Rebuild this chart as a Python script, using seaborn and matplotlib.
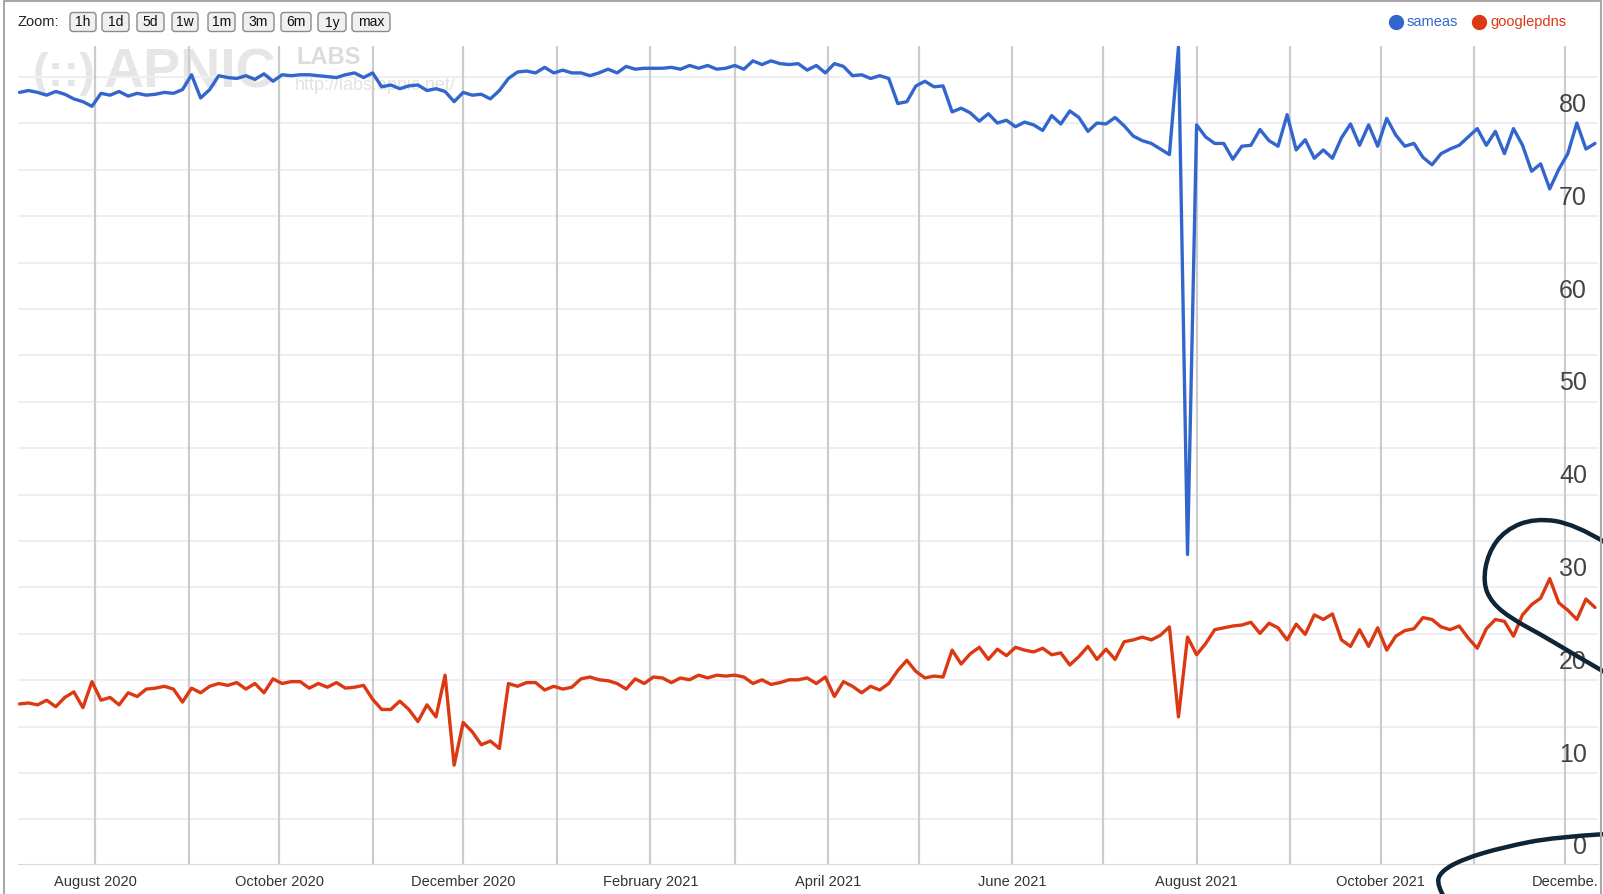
import numpy as np
import pandas as pd
import matplotlib
matplotlib.use('Agg')
import matplotlib.pyplot as plt
import matplotlib.dates as mdates
from matplotlib.patches import FancyBboxPatch, PathPatch
from matplotlib.path import Path
from matplotlib.ticker import FuncFormatter
import seaborn as sns

# -------------------------
# Data (one value every 3 days from 2020-07-07)
# -------------------------
start_date = '2020-07-07'
step_days = 3

sameas = [
    81.1, 81.3, 81.1, 80.8, 81.2, 80.9, 80.4, 80.1, 79.6, 81.0, 80.8, 81.2, 80.7, 81.0,
    80.8, 80.9, 81.1, 81.0, 81.4, 83.0, 80.5, 81.4, 82.9, 82.7, 82.6, 82.9, 82.5, 83.1,
    82.3, 83.0, 82.9, 83.0, 83.0, 82.9, 82.8, 82.7, 83.0, 83.2, 82.7, 83.2, 81.7, 81.9,
    81.5, 81.8, 81.9, 81.3, 81.5, 81.2, 80.1, 81.1, 80.8, 80.9, 80.4, 81.3, 82.6, 83.3, 83.4,
    83.2, 83.8, 83.2, 83.5, 83.2, 83.2, 82.9, 83.2, 83.6, 83.2, 83.9, 83.6, 83.7, 83.7,
    83.7, 83.8, 83.6, 84.0, 83.7, 84.0, 83.6, 83.7, 84.0, 83.6, 84.5, 84.1, 84.5, 84.2, 84.1,
    84.2, 83.5, 84.0, 83.2, 84.2, 83.9, 82.9, 83.0, 82.6, 82.9, 82.6, 79.9, 80.1, 81.8,
    82.3, 81.7, 81.8, 79.0, 79.4, 78.9, 78.0, 78.8, 77.8, 78.1, 77.4, 77.9, 77.6, 77.0,
    78.6, 77.7, 79.1, 78.4, 76.9, 77.8, 77.7, 78.4, 77.5, 76.4, 75.9, 75.6, 75.0, 74.4,
    86.0, 31.3, 77.6, 76.3, 75.6, 75.6, 73.9, 75.3, 75.4, 77.1, 75.9, 75.3, 78.7, 74.9, 76.0,
    74.0, 74.9, 74.0, 76.2, 77.7, 75.4, 77.6, 75.3, 78.3, 76.5, 75.3, 75.6, 74.1, 73.3,
    74.5, 75.0, 75.4, 76.3, 77.2, 75.4, 76.9, 74.5, 77.2, 75.4, 72.6, 73.4, 70.7, 72.8, 74.5,
    77.8, 75.0, 75.6,
]

googlepdns = [
    15.2, 15.3, 15.1, 15.6, 14.9, 15.9, 16.5, 14.8, 17.6, 15.6, 15.9, 15.1, 16.4, 16.0,
    16.8, 16.9, 17.1, 16.8, 15.4, 16.9, 16.4, 17.1, 17.4, 17.2, 17.5, 16.8, 17.4, 16.4,
    17.9, 17.4, 17.6, 17.6, 16.9, 17.4, 17.0, 17.5, 16.9, 17.0, 17.2, 15.7, 14.6, 14.6,
    15.5, 14.6, 13.3, 15.1, 13.8, 18.3, 8.6, 13.2, 12.2, 10.8, 11.2, 10.4, 17.4, 17.1, 17.5,
    17.5, 16.7, 17.1, 16.8, 17.0, 17.9, 18.1, 17.8, 17.7, 17.4, 16.8, 17.9, 17.4, 18.1,
    18.0, 17.5, 18.0, 17.8, 18.3, 18.0, 18.3, 18.2, 18.3, 18.1, 17.4, 17.8, 17.3, 17.5, 17.8,
    17.8, 18.0, 17.4, 18.1, 16.0, 17.6, 17.1, 16.4, 17.1, 16.7, 17.4, 18.8, 19.9, 18.7,
    18.0, 18.2, 18.1, 21.0, 19.5, 20.6, 21.3, 20.0, 21.1, 20.4, 21.3, 21.0, 20.8, 21.2,
    20.5, 20.7, 19.4, 20.3, 21.4, 20.0, 21.1, 20.0, 21.9, 22.1, 22.4, 22.1, 22.6, 23.5,
    13.8, 22.4, 20.5, 21.7, 23.2, 23.4, 23.6, 23.7, 24.0, 22.8, 23.9, 23.4, 22.1, 23.8, 22.7,
    24.8, 24.3, 24.9, 22.1, 21.4, 23.2, 21.4, 23.4, 21.0, 22.5, 23.1, 23.3, 24.5, 24.3,
    23.5, 23.2, 23.6, 22.3, 21.2, 23.3, 24.3, 24.1, 22.5, 24.8, 25.9, 26.6, 28.7, 26.1, 25.3,
    24.3, 26.5, 25.6,
]

y_labels = list(range(0, 90, 10))
zoom_buttons = ['1h', '1d', '5d', '1w', '1m', '3m', '6m', '1y', 'max']
last_month_label = 'Decembe.'

BLUE = '#3366cc'
RED = '#dc3912'

dates = pd.date_range(start_date, periods=len(sameas), freq=f'{step_days}D')
df = pd.DataFrame({'date': dates, 'sameas': sameas, 'googlepdns': googlepdns})
long_df = df.melt(id_vars='date', var_name='series', value_name='pct')

# -------------------------
# Figure layout (pixel based)
# -------------------------
sns.set_style('white')
plt.rcParams['font.family'] = ['Liberation Sans', 'DejaVu Sans']

W, H = 1603, 894
fig = plt.figure(figsize=(W / 100, H / 100), dpi=100)

# background layer: watermark
bg = fig.add_axes([0, 0, 1, 1], zorder=0)
bg.set_xlim(0, W)
bg.set_ylim(H, 0)
bg.axis('off')
bg.text(33, 74, '(::)', fontsize=34, fontweight='bold', color='#e6e6e6', va='center', ha='left')
bg.text(104, 74, 'APNIC', fontsize=40, fontweight='bold', color='#e6e6e6', va='center', ha='left')
bg.text(296, 57, 'LABS', fontsize=17, fontweight='bold', color='#dcdcdc', va='center', ha='left')
bg.text(295, 86, 'http://labs.apnic.net/', fontsize=13, color='#e2e2e2', va='center', ha='left')

# main plot
ax = fig.add_axes([18 / W, 1 - 864 / H, (1598 - 18) / W, (864 - 46) / H], zorder=1)
ax.set_facecolor('none')
sns.lineplot(data=long_df, x='date', y='pct', hue='series',
             palette={'sameas': BLUE, 'googlepdns': RED},
             linewidth=2.4, legend=False, estimator=None, ax=ax, zorder=3)

ax.set_xlim(pd.Timestamp('2020-07-06 12:00'), pd.Timestamp('2021-12-12'))
ax.set_ylim(-2.05, 86.1)

for v in np.arange(2.75, 86, 5):
    ax.axhline(v, color='#eeeef5', lw=1.5, zorder=0)


def month_label(x, pos):
    d = mdates.num2date(x)
    if d.month % 2:
        return ''
    if d.year == 2021 and d.month == 12:
        return last_month_label
    return d.strftime('%B %Y')


ax.xaxis.set_major_locator(mdates.MonthLocator())
ax.xaxis.set_major_formatter(FuncFormatter(month_label))
ax.grid(axis='x', color='#cccccc', lw=1.6, zorder=1)
ax.grid(axis='y', visible=False)
ax.tick_params(axis='x', length=0, pad=8, labelsize=10.5, labelcolor='#333333')

ax.set_yticks(y_labels)
ax.yaxis.tick_right()
ax.tick_params(axis='y', length=0, pad=-8, labelsize=18, labelcolor='#444444')
plt.setp(ax.get_yticklabels(), ha='right')

for s in ['top', 'left', 'right']:
    ax.spines[s].set_visible(False)
ax.spines['bottom'].set_color('#d8d8d8')
ax.set_xlabel('')
ax.set_ylabel('')

# overlay: toolbar, legend, frame, hand drawn marks
ov = fig.add_axes([0, 0, 1, 1], zorder=3)
ov.set_facecolor('none')
ov.set_xlim(0, W)
ov.set_ylim(H, 0)
ov.axis('off')

ov.text(18, 22, 'Zoom:', fontsize=10.5, color='#222222', va='center', ha='left')
btn_x = [70, 102, 137, 172, 208, 243, 281, 318, 352]
btn_w = [26, 27, 27, 26, 27, 31, 30, 28, 38]
for lab, bx, bw in zip(zoom_buttons, btn_x, btn_w):
    ov.add_patch(FancyBboxPatch((bx, 12.5), bw, 19, boxstyle='round,pad=0,rounding_size=3',
                                fc='#f0f0f0', ec='#8a8a8a', lw=1))
    ov.text(bx + bw / 2, 22.5, lab, fontsize=10, color='#111111', va='center', ha='center')

ov.plot([1396], [21.5], 'o', color=BLUE, ms=10)
ov.text(1407, 22, 'sameas', fontsize=10.5, color=BLUE, va='center', ha='left')
ov.plot([1479], [21.5], 'o', color=RED, ms=10)
ov.text(1490, 22, 'googlepdns', fontsize=10.5, color=RED, va='center', ha='left')

# frame
ov.plot([3.5, 3.5], [1, H], color='#a8a8a8', lw=1.5)
ov.plot([3.5, 1600.5], [1, 1], color='#a8a8a8', lw=1.5)
ov.plot([1600.5, 1600.5], [1, H], color='#a8a8a8', lw=1.5)


def smooth_path(pts):
    verts = [pts[0]]
    codes = [Path.MOVETO]
    for i in range(1, len(pts) - 1):
        if i < len(pts) - 2:
            end = ((pts[i][0] + pts[i + 1][0]) / 2, (pts[i][1] + pts[i + 1][1]) / 2)
        else:
            end = pts[i + 1]
        verts += [pts[i], end]
        codes += [Path.CURVE3, Path.CURVE3]
    return Path(verts, codes)


ring = [(1606, 543), (1575, 524), (1535, 518), (1505, 530), (1488, 553), (1483, 583),
        (1492, 603), (1512, 619), (1540, 634), (1570, 652), (1606, 673)]
hook = [(1606, 834), (1555, 837), (1504, 847), (1463, 859), (1440, 872), (1437, 885), (1444, 897)]
for pts in (ring, hook):
    ov.add_patch(PathPatch(smooth_path(pts), fc='none', ec='#0f2536', lw=3.2, capstyle='round'))

fig.savefig('out.png', dpi=100)
